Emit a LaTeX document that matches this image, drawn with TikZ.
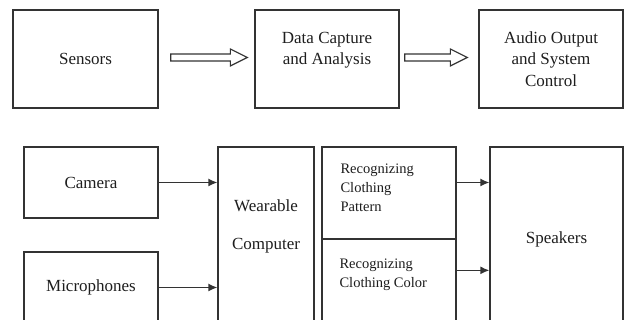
\documentclass[tikz,border=0pt]{standalone}
\usepackage{fontspec}
\setmainfont{Liberation Serif}
\usepackage{tikz}
\usetikzlibrary{arrows.meta,calc,positioning}
\definecolor{boxline}{HTML}{333333}
\definecolor{boxtext}{HTML}{1E1E1E}
\tikzset{
  box/.style={draw=boxline,line width=1.3pt,inner sep=0pt,align=center,text=boxtext,
    font=\fontsize{17}{21.5}\selectfont},
  lbl/.style={inner sep=0pt,text=boxtext,font=\fontsize{17}{21.5}\selectfont},
  small/.style={inner sep=0pt,text=boxtext,align=left,anchor=west,
    font=\fontsize{14.5}{19}\selectfont},
  conn/.style={draw=boxline,line width=1.3pt,-{Latex[length=9pt,width=8pt]}},
  fat/.style={draw=boxline,line width=1.2pt,fill=white,line join=miter}
}
% hollow block arrow between two points
\newcommand{\fatarrow}[2]{%
  \draw[fat] let \p1=(#1), \p2=(#2) in
    (\x1,\y1+3.5pt) -- (\x2-17pt,\y1+3.5pt) -- (\x2-17pt,\y1+8.5pt) -- (\x2,\y1)
    -- (\x2-17pt,\y1-8.5pt) -- (\x2-17pt,\y1-3.5pt) -- (\x1,\y1-3.5pt) -- cycle;}

\begin{document}
\begin{tikzpicture}[x=1pt,y=1pt]
  \useasboundingbox (0,0) rectangle (629,320);
  \clip (0,0) rectangle (629,320);
  \fill[white] (0,0) rectangle (629,320);
  % top row
  \node[box,minimum width=145,minimum height=98] (sensors) at (85.5,261) {Sensors};
  \node[box,minimum width=144,minimum height=98] (capture) at (327,261) {Data Capture\\and Analysis\\\mbox{}};
  \node[box,minimum width=144,minimum height=98] (audio) at (551,261) {Audio Output\\and System\\Control};
  \coordinate (a1s) at ($(sensors.east)+(12,1.5)$);
  \coordinate (a1e) at ($(capture.west)+(-7,1.5)$);
  \coordinate (a2s) at ($(capture.east)+(5,1.5)$);
  \coordinate (a2e) at ($(audio.west)+(-11,1.5)$);
  \fatarrow{a1s}{a1e}
  \fatarrow{a2s}{a2e}
  % bottom row
  \node[box,minimum width=134,minimum height=71] (camera) at (91,137.5) {Camera};
  \node[box,minimum width=134,minimum height=71] (micro) at (91,32.5) {Microphones};
  \node[box,minimum width=96,minimum height=193] (wear) at (266,76.5) {};
  \node[lbl,align=center] (weartxt) at ($(wear.north)+(0,-80)$) {Wearable\\[17pt]Computer};
  \node[box,minimum width=134,minimum height=92] (pattern) at (389,127) {};
  \node[box,minimum width=134,minimum height=101] (color) at (389,30.5) {};
  \node[small] (patterntxt) at ($(pattern.north west)+(19,-41.5)$) {Recognizing\\Clothing\\Pattern};
  \node[small] (colortxt) at ($(color.north west)+(18,-36)$) {Recognizing\\Clothing Color};
  \node[box,minimum width=133,minimum height=184] (speakers) at (556.5,81) {Speakers};
  % connectors
  \draw[conn] (camera.east) -- (camera.east -| wear.west);
  \draw[conn] (micro.east) -- (micro.east -| wear.west);
  \draw[conn] (pattern.east |- camera.east) -- (speakers.west |- camera.east);
  \coordinate (cout) at ($(color.north east)+(0,-32)$);
  \draw[conn] (cout) -- (cout -| speakers.west);
\end{tikzpicture}
\end{document}
